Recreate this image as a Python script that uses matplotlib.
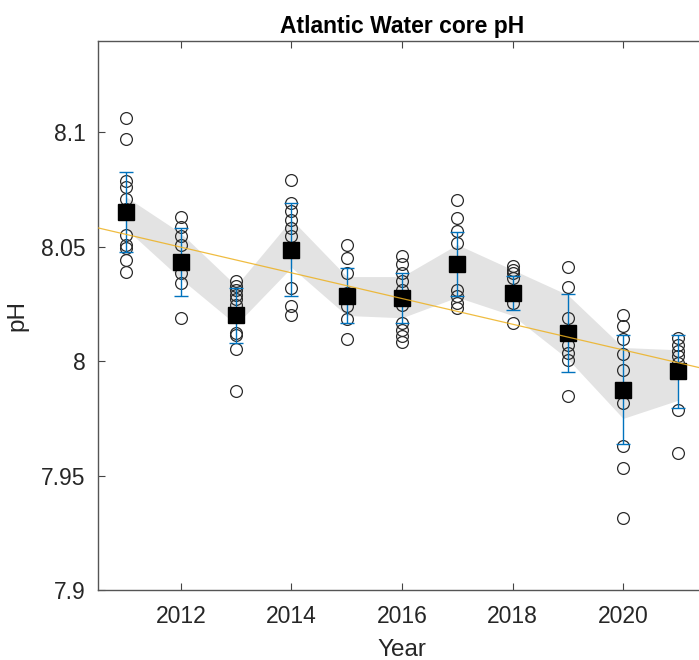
import numpy as np
import matplotlib
matplotlib.use('Agg')
import matplotlib.pyplot as plt

plt.rcParams['font.family'] = ['Liberation Sans', 'DejaVu Sans']

years = [2011, 2012, 2013, 2014, 2015, 2016, 2017, 2018, 2019, 2020, 2021]

# individual pH samples per year
ph_samples = [
    [8.1064, 8.0972, 8.0787, 8.0762, 8.0710, 8.0665, 8.0554, 8.0506, 8.0493, 8.0444, 8.0392],
    [8.0631, 8.0587, 8.0546, 8.0507, 8.0440, 8.0386, 8.0343, 8.0189],
    [8.0350, 8.0331, 8.0310, 8.0291, 8.0270, 8.0248, 8.0124, 8.0116, 8.0054, 7.9868],
    [8.0791, 8.0692, 8.0656, 8.0619, 8.0583, 8.0546, 8.0321, 8.0240, 8.0204],
    [8.0510, 8.0452, 8.0386, 8.0300, 8.0240, 8.0185, 8.0095],
    [8.0459, 8.0423, 8.0386, 8.0350, 8.0313, 8.0280, 8.0248, 8.0168, 8.0138, 8.0109, 8.0085],
    [8.0707, 8.0627, 8.0568, 8.0518, 8.0313, 8.0284, 8.0255, 8.0233],
    [8.0415, 8.0400, 8.0386, 8.0364, 8.0300, 8.0255, 8.0165],
    [8.0413, 8.0325, 8.0189, 8.0120, 8.0070, 8.0036, 8.0007, 7.9850],
    [8.0204, 8.0153, 8.0095, 8.0030, 7.9960, 7.9818, 7.9628, 7.9533, 7.9315],
    [8.0102, 8.0073, 8.0043, 8.0022, 7.9993, 7.9788, 7.9599],
]

ph_mean = [8.0651, 8.0434, 8.0200, 8.0488, 8.0287, 8.0277, 8.0423, 8.0299, 8.0124, 7.9876, 7.9956]
ph_std = [0.0175, 0.0150, 0.0120, 0.0205, 0.0120, 0.0110, 0.0140, 0.0075, 0.0170, 0.0240, 0.0160]

# grey envelope
band_lo = [8.058, 8.036, 8.016, 8.041, 8.020, 8.019, 8.028, 8.020, 8.001, 7.975, 7.983]
band_hi = [8.072, 8.056, 8.033, 8.062, 8.037, 8.037, 8.051, 8.040, 8.029, 8.006, 8.005]

fig = plt.figure(figsize=(6.99, 6.60), dpi=100)
ax = fig.add_axes([0.1402, 0.1061, 0.8698, 0.8318])

ax.fill_between(years, band_lo, band_hi, color='#e3e3e3', lw=0, zorder=1)

for yr, vals in zip(years, ph_samples):
    ax.plot([yr]*len(vals), vals, 'o', ms=8.5, mfc='none', mec='#2a2a2a', mew=0.9, zorder=3)

ax.errorbar(years, ph_mean, yerr=ph_std, fmt='none', ecolor='#0072BD',
            elinewidth=1.0, capsize=5, capthick=1.0, zorder=4)
ax.plot(years, ph_mean, 's', ms=11, color='black', zorder=5)

# linear trend through the yearly means
slope, icpt = np.polyfit(years, ph_mean, 1)
xx = np.array([2010.5, 2021.5])
ax.plot(xx, slope*xx + icpt, color='#EDB120', lw=0.9, alpha=0.85, zorder=6)

ax.set_xlim(2010.5, 2021.5)
ax.set_ylim(7.9, 8.14)
ax.set_xticks([2012, 2014, 2016, 2018, 2020])
ax.set_yticks([7.9, 7.95, 8.0, 8.05, 8.1])
ax.set_yticklabels(['7.9', '7.95', '8', '8.05', '8.1'])

ax.tick_params(direction='in', length=5, width=0.8, color='#444444',
               labelsize=16.5, labelcolor='#262626', top=True, right=True)
ax.tick_params(axis='x', pad=11)
ax.tick_params(axis='y', pad=9)
for sp in ax.spines.values():
    sp.set_color('#555555')
    sp.set_linewidth(1.0)

ax.set_xlabel('Year', fontsize=17.5, color='#262626', labelpad=8)
ax.set_ylabel('pH', fontsize=17.5, color='#262626', labelpad=9)
ax.set_title('Atlantic Water core pH', fontsize=16.5, fontweight='bold', pad=6)

fig.savefig('out.png', dpi=100)
